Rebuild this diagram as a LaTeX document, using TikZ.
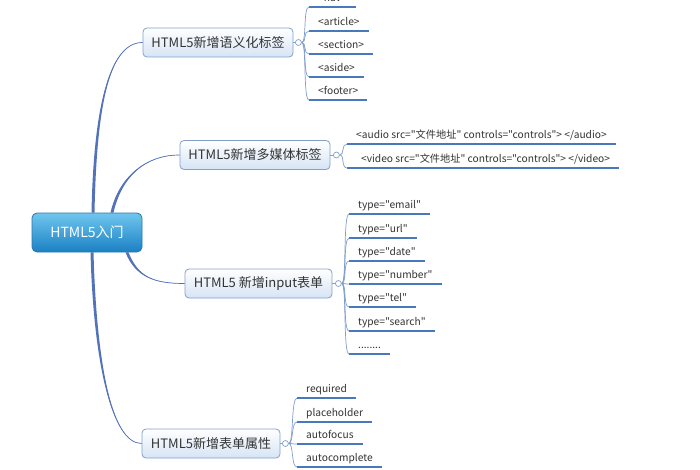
\documentclass[tikz,border=0pt]{standalone}
\usepackage{fontspec}
\setmainfont{Noto Sans CJK SC}[Ligatures=TeXOff]
\usetikzlibrary{calc}
\definecolor{connblue}{RGB}{84,114,186}
\definecolor{twigblue}{RGB}{128,158,204}
\definecolor{ulblue}{RGB}{74,120,189}
\definecolor{boxedge}{RGB}{132,160,200}
\definecolor{boxfill}{RGB}{214,228,245}
\definecolor{roottop}{RGB}{112,198,238}
\definecolor{rootbot}{RGB}{26,128,196}
\definecolor{rootedge}{RGB}{40,120,175}
\definecolor{txt}{RGB}{51,51,51}
\tikzset{
  branch/.style={draw=boxedge, line width=0.8pt, rounded corners=4pt, top color=white, bottom color=boxfill, text=txt, font=\fontsize{13}{15}\selectfont, minimum height=29pt, inner ysep=0pt},
  rootbox/.style={draw=rootedge, line width=0.8pt, rounded corners=5pt, top color=roottop, bottom color=rootbot, text=white, font=\fontsize{14}{16}\selectfont, minimum width=110pt, minimum height=39pt},
  knob/.style={circle, draw=boxedge, fill=white, minimum size=6pt, inner sep=0pt, line width=0.7pt},
  leaf/.style={anchor=south west, inner xsep=9pt, inner ysep=3pt, text depth=2.5pt, text height=7.5pt, font=\fontsize{10.2}{12}\selectfont, text=txt},
  uline/.style={ulblue, line width=1.6pt},
  twig/.style={twigblue, line width=0.7pt},
}
\newcommand\leafat[5]{%
  \node[leaf] (#1) at (#3,#4) {#5};
  \draw[uline] (#1.south west) -- (#1.south east);
  \draw[twig] (#2.east) .. controls +(5,0) and +(-6,0) .. (#1.south west);
}
\newcommand\rootlink[4]{%
  \fill[connblue] ([xshift=-1.5pt]#1) .. controls +#3 and +#4 .. (#2) .. controls +#4 and +#3 .. ([xshift=1.5pt]#1) -- cycle;
  \draw[connblue, line width=0.7pt] (#1) .. controls +#3 and +#4 .. (#2);
}
\begin{document}
\begin{tikzpicture}[x=1pt,y=-1pt]
\useasboundingbox[fill=white] (0,0) rectangle (700,470);

% root
\node[rootbox] (root) at (87,232.5) {HTML5入门};

% branches
\node[branch, minimum width=150pt] (b1) at (218,42.5) {HTML5新增语义化标签};
\node[branch, minimum width=150pt] (b2) at (255,155) {HTML5新增多媒体标签};
\node[branch, minimum width=147pt] (b3) at (258.5,283.5) {HTML5 新增input表单};
\node[branch, minimum width=138pt] (b4) at (211,443.5) {HTML5新增表单属性};

\coordinate (r1) at ([xshift=6pt]root.north);
\coordinate (r2) at ([xshift=25pt]root.north);
\coordinate (r3) at ([xshift=40pt]root.south);
\coordinate (r4) at ([xshift=5pt]root.south);

\rootlink{r1}{b1.west}{(2,-100)}{(-35,0)}
\rootlink{r2}{b2.west}{(8,-35)}{(-35,0)}
\rootlink{r3}{b3.west}{(10,25)}{(-30,0)}
\rootlink{r4}{b4.west}{(3,110)}{(-30,0)}

% knobs
\node[knob] (k1) at ([xshift=5pt]b1.east) {};
\node[knob] (k2) at ([xshift=6pt]b2.east) {};
\node[knob] (k3) at ([xshift=6pt]b3.east) {};
\node[knob] (k4) at ([xshift=5pt]b4.east) {};
\foreach \i in {1,2,3,4} {\draw[boxedge, line width=0.7pt] (b\i.east) -- (k\i.west);}

% leaves of branch 1
\leafat{l1a}{k1}{309}{7}{<nav>}
\leafat{l1b}{k1}{309}{31}{<article>}
\leafat{l1c}{k1}{309}{54}{<section>}
\leafat{l1d}{k1}{309}{77}{<aside>}
\leafat{l1e}{k1}{309}{100}{<footer>}

% leaves of branch 2
\leafat{l2a}{k2}{347}{144}{<audio src="文件地址" controls="controls"> </audio>}
\leafat{l2b}{k2}{347}{168}{\hspace*{5pt}<video src="文件地址" controls="controls"> </video>}

% leaves of branch 3
\leafat{l3a}{k3}{349}{214}{type="email"}
\leafat{l3b}{k3}{349}{238}{type="url"}
\leafat{l3c}{k3}{349}{261}{type="date"}
\leafat{l3d}{k3}{349}{284}{type="number"}
\leafat{l3e}{k3}{349}{307}{type="tel"}
\leafat{l3f}{k3}{349}{331}{type="search"}
\leafat{l3g}{k3}{349}{354}{........}

% leaves of branch 4
\leafat{l4a}{k4}{297}{398}{required}
\leafat{l4b}{k4}{297}{422}{placeholder}
\leafat{l4c}{k4}{297}{444}{autofocus}
\leafat{l4d}{k4}{297}{467}{autocomplete}
\end{tikzpicture}
\end{document}
